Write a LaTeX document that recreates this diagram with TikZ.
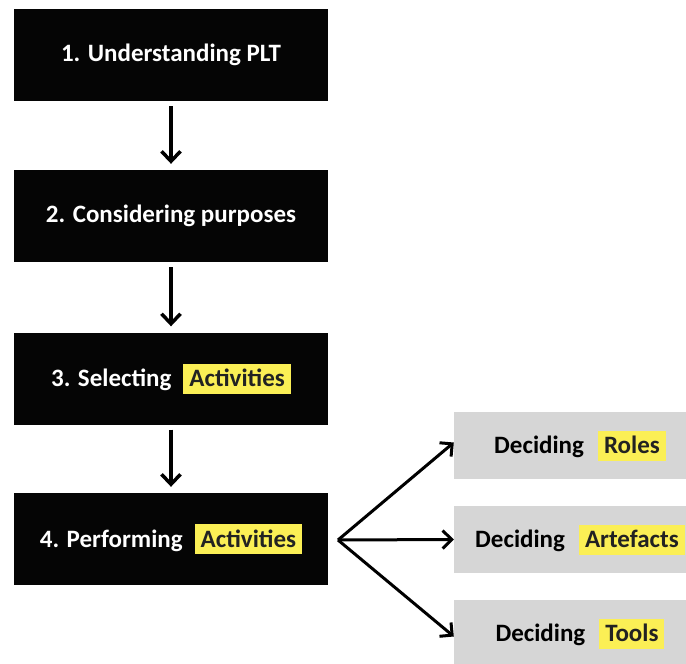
\documentclass[tikz,border=0pt]{standalone}
\usepackage{fontspec}
\setmainfont{Carlito}
\usetikzlibrary{arrows.meta}
\definecolor{boxblack}{HTML}{050505}
\definecolor{boxgray}{HTML}{D6D6D6}
\definecolor{hlyellow}{HTML}{FBEF55}
\definecolor{hltext}{HTML}{222222}
\newcommand{\hlbox}[1]{{\setlength{\fboxsep}{0pt}\colorbox{hlyellow}{\hspace{6pt}\rule[-7pt]{0pt}{30pt}\textcolor{hltext}{#1}\hspace{6pt}}}}
\tikzset{
  mainbox/.style={rectangle, fill=boxblack, text=white, minimum width=314pt, minimum height=92pt, inner sep=0pt, font=\fontsize{25pt}{28pt}\selectfont\bfseries},
  sidebox/.style={rectangle, fill=boxgray, text=black, minimum width=232pt, minimum height=67pt, inner sep=0pt, font=\fontsize{25pt}{28pt}\selectfont\bfseries},
  flow/.style={line width=3.5pt, -{Straight Barb[length=10pt,width=19pt,line width=3.5pt]}},
  fan/.style={line width=3pt, -{Straight Barb[length=9pt,width=18pt,line width=3pt]}}
}
\begin{document}
\begin{tikzpicture}[x=1pt,y=-1pt]
\useasboundingbox (0,0) rectangle (686,664);
\node[mainbox] (b1) at (171,55) {1. Understanding PLT};
\node[mainbox] (b2) at (171,216) {2. Considering purposes};
\node[mainbox] (b3) at (171,378.5) {3. Selecting\hspace{12pt}\hlbox{Activities}};
\node[mainbox] (b4) at (171,539) {4. Performing\hspace{12pt}\hlbox{Activities}};
\node[sidebox] (g1) at (570,445.5) {\hspace*{20pt}Deciding\hspace{14pt}\hlbox{Roles}};
\node[sidebox] (g2) at (570,539.5) {\hspace*{20pt}Deciding\hspace{14pt}\hlbox{Artefacts}};
\node[sidebox] (g3) at (570,633.5) {\hspace*{20pt}Deciding\hspace{14pt}\hlbox{Tools}};
\coordinate (f) at (338,540);
\draw[flow, shorten <=5pt, shorten >=6pt] (b1.south) -- (b2.north);
\draw[flow, shorten <=5pt, shorten >=6pt] (b2.south) -- (b3.north);
\draw[flow, shorten <=5pt, shorten >=6pt] (b3.south) -- (b4.north);
\draw[fan] (f) -- ([yshift=3pt]g1.west);
\draw[fan] (f) -- (g2.west);
\draw[fan] (f) -- ([yshift=-3pt]g3.west);
\end{tikzpicture}
\end{document}
